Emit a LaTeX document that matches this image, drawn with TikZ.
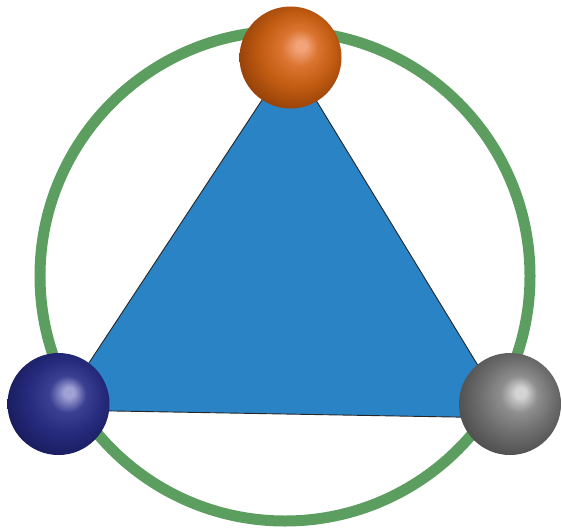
\documentclass[tikz,border=0pt]{standalone}
\usetikzlibrary{shadings}
\definecolor{ringgreen}{HTML}{5B9E5F}
\definecolor{triblue}{HTML}{2A83C4}
\definecolor{ohi}{HTML}{F2A37A}
\definecolor{omid}{HTML}{DA7430}
\definecolor{obase}{HTML}{C25C12}
\definecolor{odark}{HTML}{8A3A06}
\definecolor{bhi}{HTML}{A0A2D6}
\definecolor{bmid}{HTML}{3C4092}
\definecolor{bbase}{HTML}{262B7E}
\definecolor{bdark}{HTML}{161955}
\definecolor{ghi}{HTML}{D4D4D4}
\definecolor{gmid}{HTML}{8E8E8E}
\definecolor{gbase}{HTML}{6E6E6E}
\definecolor{gdark}{HTML}{464646}
\pgfdeclareradialshading{ballorange}{\pgfpoint{5.5bp}{6bp}}{color(0bp)=(ohi); color(2.5bp)=(ohi); color(9bp)=(omid); color(18bp)=(obase); color(31bp)=(odark); color(45bp)=(odark)}
\pgfdeclareradialshading{ballblue}{\pgfpoint{5.5bp}{6bp}}{color(0bp)=(bhi); color(2.5bp)=(bhi); color(9bp)=(bmid); color(18bp)=(bbase); color(31bp)=(bdark); color(45bp)=(bdark)}
\pgfdeclareradialshading{ballgray}{\pgfpoint{5.5bp}{6bp}}{color(0bp)=(ghi); color(2.5bp)=(ghi); color(9bp)=(gmid); color(18bp)=(gbase); color(31bp)=(gdark); color(45bp)=(gdark)}
\tikzset{
  ringline/.style={draw=ringgreen, line width=11pt},
  triface/.style={fill=triblue, draw=black!85, line width=0.9pt, line join=round},
  ballnode/.style={circle, inner sep=0pt, minimum size=102pt, shade}
}
\begin{document}
\begin{tikzpicture}[x=1pt, y=-1pt]
\useasboundingbox (0,0) rectangle (562,532);
\node[circle, inner sep=0pt, minimum size=490pt, ringline] (ring) at (285,276) {};
\coordinate (apex) at (290,57.5);
\coordinate (bl) at (58,410);
\coordinate (br) at (510,418);
\draw[triface] (apex) -- (bl) -- (br) -- cycle;
\node[ballnode, shading=ballorange] (orange) at (290.5,57.5) {};
\node[ballnode, shading=ballblue] (blue) at (58.5,404) {};
\node[ballnode, shading=ballgray] (gray) at (510,404) {};
\end{tikzpicture}
\end{document}
